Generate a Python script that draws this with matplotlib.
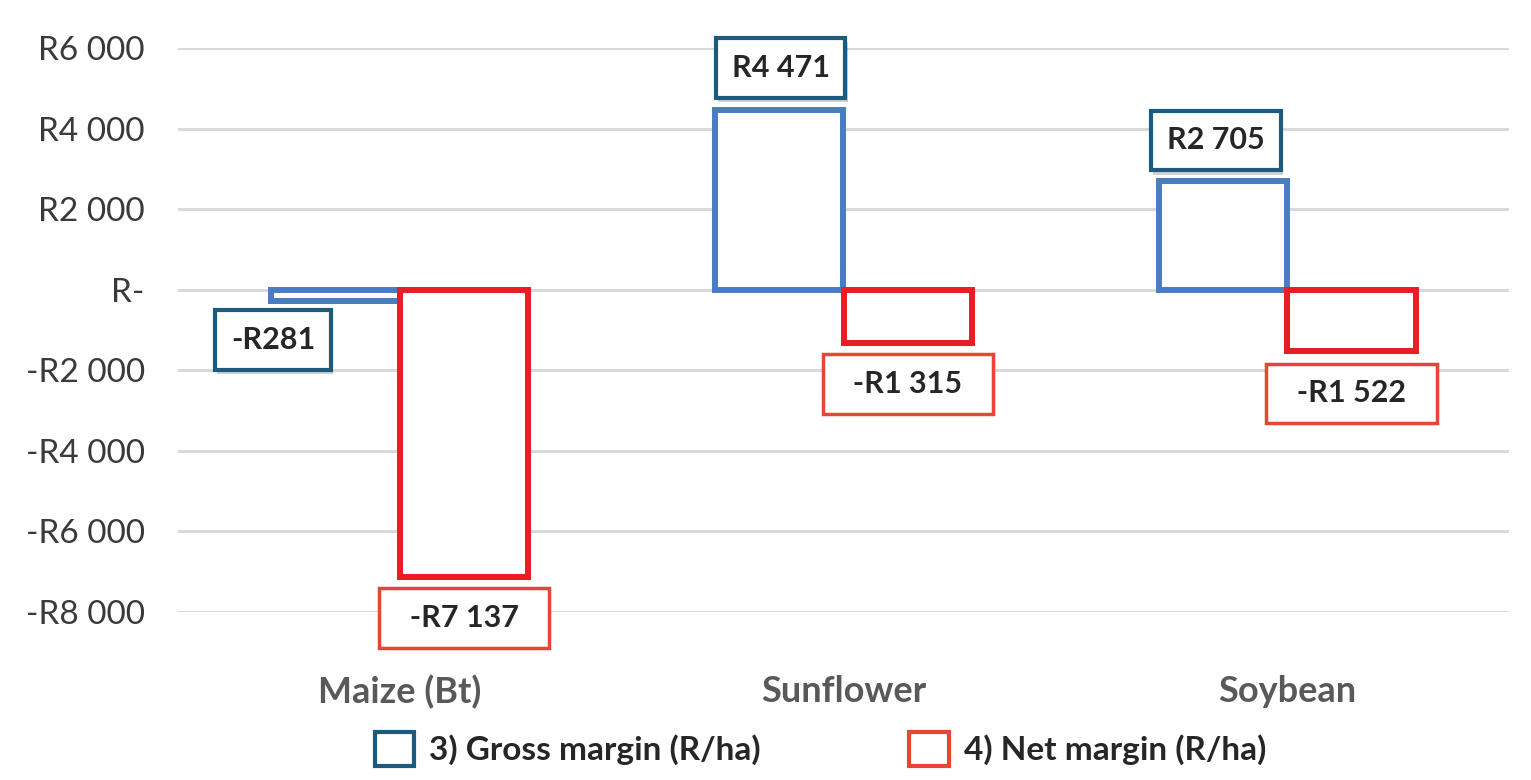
import matplotlib
matplotlib.use("Agg")
import matplotlib.pyplot as plt
import numpy as np
from matplotlib.patches import Patch
import matplotlib.patheffects as pe

categories = ["Maize (Bt)", "Sunflower", "Soybean"]
gross_margin = [-281, 4471, 2705]
net_margin = [-7137, -1315, -1522]
gross_labels = ["-R281", "R4 471", "R2 705"]
net_labels = ["-R7 137", "-R1 315", "-R1 522"]
yticks = [6000, 4000, 2000, 0, -2000, -4000, -6000, -8000]
ytick_labels = ["R6 000", "R4 000", "R2 000", "R-", "-R2 000", "-R4 000", "-R6 000", "-R8 000"]
legend_labels = ["3) Gross margin (R/ha)", "4) Net margin (R/ha)"]

BAR_BLUE = "#4A7DC0"
BAR_RED = "#EC1C24"
BOX_TEAL = "#1D5B7E"
BOX_RED = "#E94535"

plt.rcParams['font.family'] = ['Lato', 'DejaVu Sans']

fig = plt.figure(figsize=(15.31, 7.80), dpi=100)
ax = fig.add_axes([178/1531, 1-612/780, (1509-178)/1531, (612-48)/780])

x = np.arange(len(categories))
w = 0.29
ax.bar(x - w/2, gross_margin, width=w, facecolor="white", edgecolor=BAR_BLUE,
       linewidth=4.3, zorder=3, clip_on=False)
ax.bar(x + w/2, net_margin, width=w, facecolor="white", edgecolor=BAR_RED,
       linewidth=4.3, zorder=4, clip_on=False)

ax.set_xlim(-0.5, 2.5)
ax.set_ylim(-8000, 6000)
ax.set_yticks(yticks)
ax.set_yticklabels(ytick_labels, fontsize=24, color="#3A3A3A")
ax.set_xticks(x)
ax.set_xticklabels(categories, fontsize=26, fontweight="bold", color="#595959")
ax.tick_params(axis="both", length=0)
ax.tick_params(axis="x", pad=45)
ax.tick_params(axis="y", pad=24)
ax.grid(axis="y", color="#D9D9D9", linewidth=2.2, zorder=0)
ax.set_axisbelow(True)
for s in ax.spines.values():
    s.set_visible(False)

gross_offsets = [(-45, -28), (1, 30), (-5, 29)]
for i, (v, lab) in enumerate(zip(gross_margin, gross_labels)):
    ann = ax.annotate(lab, xy=(x[i] - w/2, v), xytext=gross_offsets[i],
                      textcoords="offset points", ha="center", va="center",
                      fontsize=22, fontweight="bold", color="#262626",
                      annotation_clip=False, zorder=6,
                      bbox=dict(boxstyle="square,pad=0.52", facecolor="white",
                                edgecolor=BOX_TEAL, linewidth=3))
    ann.get_bbox_patch().set_path_effects([
        pe.SimplePatchShadow(offset=(1.5, -3), shadow_rgbFace="#000000", alpha=0.18),
        pe.Normal()])

net_offsets = [(0, -29.5), (0, -30), (0, -30.5)]
for i, (v, lab) in enumerate(zip(net_margin, net_labels)):
    ax.annotate("  " + lab + "  ", xy=(x[i] + w/2, v), xytext=net_offsets[i],
                textcoords="offset points", ha="center", va="center",
                fontsize=22, fontweight="bold", color="#262626",
                annotation_clip=False, zorder=6,
                bbox=dict(boxstyle="square,pad=0.52", facecolor="white",
                          edgecolor=BOX_RED, linewidth=2.5))

handles = [Patch(facecolor="white", edgecolor=BOX_TEAL, linewidth=3),
           Patch(facecolor="white", edgecolor=BOX_RED, linewidth=3)]
fig.legend(handles, legend_labels, loc="center", bbox_to_anchor=(0.536, 0.04),
           ncol=2, frameon=False, handlelength=1.18, handleheight=1.18,
           handletextpad=0.45, columnspacing=4.45,
           prop=dict(family=['Lato', 'DejaVu Sans'], size=24, weight="bold"),
           labelcolor="#262626")

fig.savefig("out.png", dpi=100, facecolor="white")
